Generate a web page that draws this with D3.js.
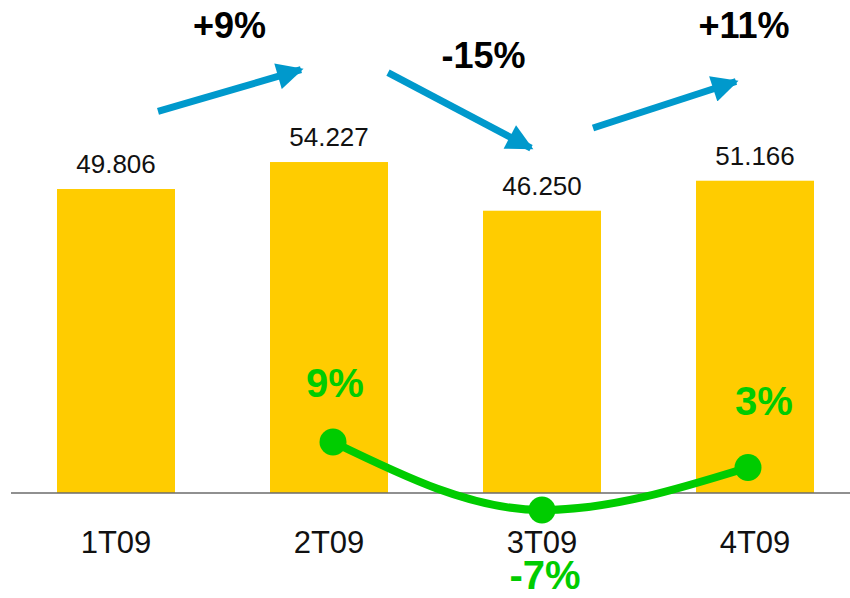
<!DOCTYPE html>
<html><head><meta charset="utf-8">
<script src="https://cdn.jsdelivr.net/npm/d3@7"></script>
<style>body{margin:0;background:#fff}svg{display:block;font-family:"Liberation Sans",Arial,sans-serif}</style>
</head><body><svg id="c" width="850" height="598"></svg>
<script>
const categories = ["1T09","2T09","3T09","4T09"];
const volumes = [49806, 54227, 46250, 51166];
const volumeLabels = ["49.806","54.227","46.250","51.166"];
const growthCats = ["2T09","3T09","4T09"];
const growthValues = [9, -7, 3];
const growthLabels = ["9%","-7%","3%"];
const changeFrom = ["1T09","2T09","3T09"];
const changeTo = ["2T09","3T09","4T09"];
const changeLabels = ["+9%","-15%","+11%"];

const svg = d3.select("#c");
const x = d3.scaleBand().domain(categories).range([9.5, 861.5]).paddingInner(0.446).paddingOuter(0.223);
const y = d3.scaleLinear().domain([0, 60000]).range([493, 126.8]);
const yp = d3.scaleLinear().domain([-20, 40]).range([565.25, 310.25]);
const bw = x.bandwidth();
const cx = c => x(c) + bw/2;

// bars
svg.append("g").selectAll("rect").data(categories).join("rect")
  .attr("x", d => x(d)).attr("width", bw)
  .attr("y", (d,i) => y(volumes[i])).attr("height", (d,i) => y(0) - y(volumes[i]))
  .attr("fill", "#FFCC00");

// baseline
svg.append("line").attr("x1", 11).attr("x2", 850).attr("y1", y(0)).attr("y2", y(0))
  .attr("stroke", "#6b6b6b").attr("stroke-width", 1.5);

// value labels
svg.append("g").selectAll("text").data(categories).join("text")
  .attr("x", d => cx(d)).attr("y", (d,i) => y(volumes[i]) - 16)
  .attr("text-anchor", "middle").attr("font-size", 26).attr("fill", "#111")
  .text((d,i) => volumeLabels[i]);

// category labels
svg.append("g").selectAll("text").data(categories).join("text")
  .attr("x", d => cx(d)).attr("y", 553)
  .attr("text-anchor", "middle").attr("font-size", 31).attr("fill", "#111")
  .text(d => d);

// growth line (points sit slightly inside the bar centres, as in the original)
const shift = [4, 0, -7];
const pts = growthCats.map((c,i) => [cx(c) + shift[i], yp(growthValues[i])]);
svg.append("path").attr("d", d3.line().curve(d3.curveMonotoneX)(pts))
  .attr("fill", "none").attr("stroke", "#00CC00").attr("stroke-width", 8);
svg.append("g").selectAll("circle").data(pts).join("circle")
  .attr("cx", d => d[0]).attr("cy", d => d[1]).attr("r", 13.5).attr("fill", "#00CC00");
svg.append("g").selectAll("text").data(growthCats).join("text")
  .attr("x", (d,i) => cx(d) + (i === 0 ? 6 : i === 2 ? 9 : 3))
  .attr("y", (d,i) => growthValues[i] >= 0 ? yp(growthValues[i]) - (i===2 ? 53 : 45) : yp(growthValues[i]) + 79)
  .attr("text-anchor", "middle").attr("font-size", 40).attr("font-weight", "bold").attr("fill", "#00CC00")
  .text((d,i) => growthLabels[i]);

// change arrows
const defs = svg.append("defs");
defs.append("marker").attr("id","ah").attr("viewBox","0 0 10 10").attr("refX",9).attr("refY",5)
  .attr("markerWidth",4.2).attr("markerHeight",3.8).attr("markerUnits","strokeWidth").attr("orient","auto")
  .append("path").attr("d","M0,0 L10,5 L0,10 Z").attr("fill","#0099CC");
const vOf = c => volumes[categories.indexOf(c)];
const arrows = changeFrom.map((f,i) => {
  const t = changeTo[i];
  const y1 = y(vOf(f)), y2 = y(vOf(t));
  const mid = (y1 + y2)/2 - 85 + (i===1 ? 9 : i===2 ? -6 : 0);
  const dy = (y2 - y1) * 1.55;
  const x1 = x(f) + bw - (i===0 ? 17 : i===1 ? 0 : 8);
  const x2 = x1 + 143;
  return {x1, y1: mid - dy/2, x2, y2: mid + dy/2, label: changeLabels[i], up: y2 < y1};
});
svg.append("g").selectAll("line").data(arrows).join("line")
  .attr("x1", d => d.x1).attr("y1", d => d.y1).attr("x2", d => d.x2).attr("y2", d => d.y2)
  .attr("stroke", "#0099CC").attr("stroke-width", 7).attr("marker-end", "url(#ah)");
svg.append("g").selectAll("text").data(arrows).join("text")
  .attr("x", (d,i) => i===0 ? (d.x1+d.x2)/2 : i===1 ? (d.x1+d.x2)/2 + 24 : d.x2 + 8)
  .attr("y", d => d.up ? 38 : 68)
  .attr("text-anchor", "middle").attr("font-size", 36).attr("font-weight", "bold").attr("fill", "#000")
  .text(d => d.label);
</script></body></html>
